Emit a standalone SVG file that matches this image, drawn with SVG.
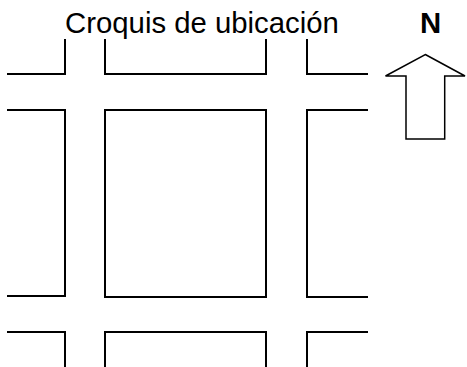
<svg xmlns="http://www.w3.org/2000/svg" width="467" height="367" viewBox="0 0 467 367">
<style>
text{font-family:"Liberation Sans",Arial,sans-serif;font-size:29.33px;fill:#000}
.b{fill:none;stroke:#000;stroke-width:2;stroke-linejoin:miter}
</style>
<rect width="467" height="367" fill="#fff"/>
<text id="title" x="65" y="33" font-size="29.33">Croquis de ubicación</text>
<text id="north" x="420" y="33" font-weight="bold">N</text>
<g id="blocks">
<path class="b" d="M7 74H65V39"/>
<path class="b" d="M105 39V74H266V39"/>
<path class="b" d="M307 39V74H368"/>
<path class="b" d="M7 110H65V296H7"/>
<path class="b" d="M368 110H307V297H368"/>
<rect class="b" x="105" y="110" width="161" height="187"/>
<path class="b" d="M7 332H65V367"/>
<path class="b" d="M105 367V332H266V367"/>
<path class="b" d="M307 367V332H368"/>
</g>
<path id="arrow" d="M425.3 54.5L465 76H444.7V139H406V76H385.5Z" fill="#fff" stroke="#000" stroke-width="1.5"/>
</svg>
